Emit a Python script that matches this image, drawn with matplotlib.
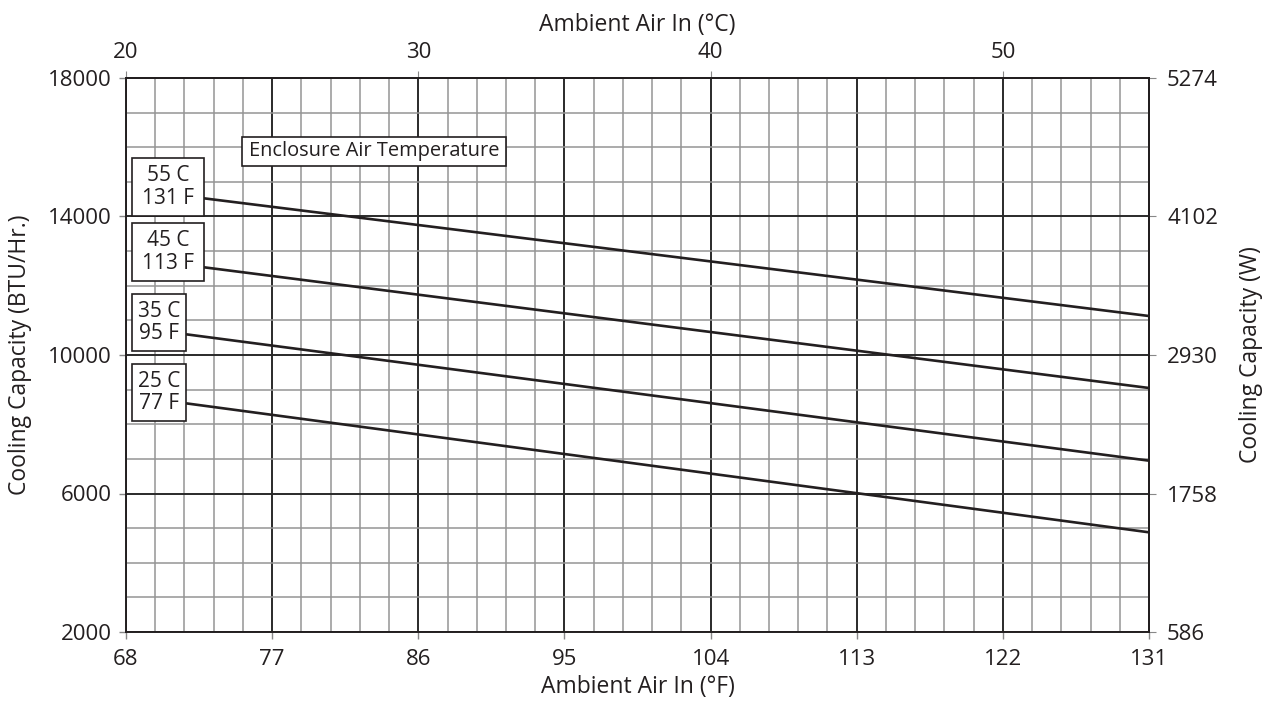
import matplotlib
matplotlib.use("Agg")
import matplotlib.pyplot as plt
from matplotlib.patches import Rectangle
import numpy as np

plt.rcParams['font.family'] = ['Open Sans', 'DejaVu Sans']

# Data
series_labels = ["55 C\n131 F", "45 C\n113 F", "35 C\n95 F", "25 C\n77 F"]
x_start = [72.8, 72.8, 71.7, 71.7]
x_end = [131, 131, 131, 131]
y_start = [14525, 12533, 10598, 8604]
y_end = [11126, 9047, 6948, 4879]
x_ticks_f = [68, 77, 86, 95, 104, 113, 122, 131]
y_ticks_btu = [2000, 6000, 10000, 14000, 18000]
c_ticks = [20, 30, 40, 50]
w_ticks = [586, 1758, 2930, 4102, 5274]

W, H = 1268, 702
L, R, T, B = 126, 1149, 78, 632
TXT = '#231f20'

fig = plt.figure(figsize=(W / 100, H / 100), dpi=100)
ax = fig.add_axes([L / W, 1 - B / H, (R - L) / W, (B - T) / H])
ax.set_xlim(68, 131)
ax.set_ylim(2000, 18000)

ax.set_xticks(x_ticks_f)
ax.set_yticks(y_ticks_btu)
ax.set_xticks(np.arange(68, 131.01, 1.8), minor=True)
ax.set_yticks(np.arange(2000, 18001, 1000), minor=True)
ax.grid(which='minor', color='#959595', linewidth=1.1)
ax.grid(which='major', color='#2a2a2a', linewidth=1.4)
ax.tick_params(which='minor', length=0)
ax.tick_params(which='major', length=5, width=1, color='#888888', labelsize=16, colors=TXT)
ax.tick_params(axis='x', pad=7)
ax.tick_params(axis='y', pad=5)
for s in ax.spines.values():
    s.set_color(TXT)
    s.set_linewidth(1.4)
ax.set_axisbelow(True)

for xs, xe, ys, ye in zip(x_start, x_end, y_start, y_end):
    ax.plot([xs, xe], [ys, ye], color=TXT, linewidth=1.9, solid_capstyle='butt', zorder=3)


def px2data(px, py):
    return 68 + (px - L) / (R - L) * 63, 18000 - (py - T) / (B - T) * 16000


def pixbox(x0, y0, x1, y1, text, fs=15):
    dx0, dy1 = px2data(x0, y1)
    dx1, dy0 = px2data(x1, y0)
    ax.add_patch(Rectangle((dx0, dy1), dx1 - dx0, dy0 - dy1, facecolor='white',
                           edgecolor=TXT, linewidth=1.2, zorder=5))
    ax.text((dx0 + dx1) / 2, (dy0 + dy1) / 2, text, ha='center', va='center',
            fontsize=fs, color=TXT, linespacing=1.1, zorder=6)


label_boxes = [(132, 158, 204, 216), (132, 223, 204, 281), (132, 294, 186, 351), (132, 364, 186, 421)]
for lab, bx in zip(series_labels, label_boxes):
    pixbox(*bx, lab)
pixbox(242, 137, 506, 166, "Enclosure Air Temperature", fs=14.4)

ax.set_xlabel("Ambient Air In (°F)", fontsize=16.5, color=TXT, labelpad=4)
ax.set_ylabel("Cooling Capacity (BTU/Hr.)", fontsize=16.5, color=TXT, labelpad=12)

top = ax.secondary_xaxis('top', functions=(lambda f: (f - 32) * 5 / 9, lambda c: c * 9 / 5 + 32))
top.set_xticks(c_ticks)
top.tick_params(length=5, color='#888888', labelsize=16, colors=TXT, pad=6)
top.set_xlabel("Ambient Air In (°C)", fontsize=16.5, color=TXT, labelpad=8)

right = ax.secondary_yaxis('right', functions=(lambda b: b * 0.293, lambda w: w / 0.293))
right.set_yticks(w_ticks)
right.tick_params(length=5, color='#888888', labelsize=16, colors=TXT, pad=8)
right.set_ylabel("Cooling Capacity (W)", fontsize=16.5, color=TXT, labelpad=15)
for sec in (top, right):
    for s in sec.spines.values():
        s.set_color(TXT)
        s.set_linewidth(1.4)

fig.savefig("out.png", dpi=100)
